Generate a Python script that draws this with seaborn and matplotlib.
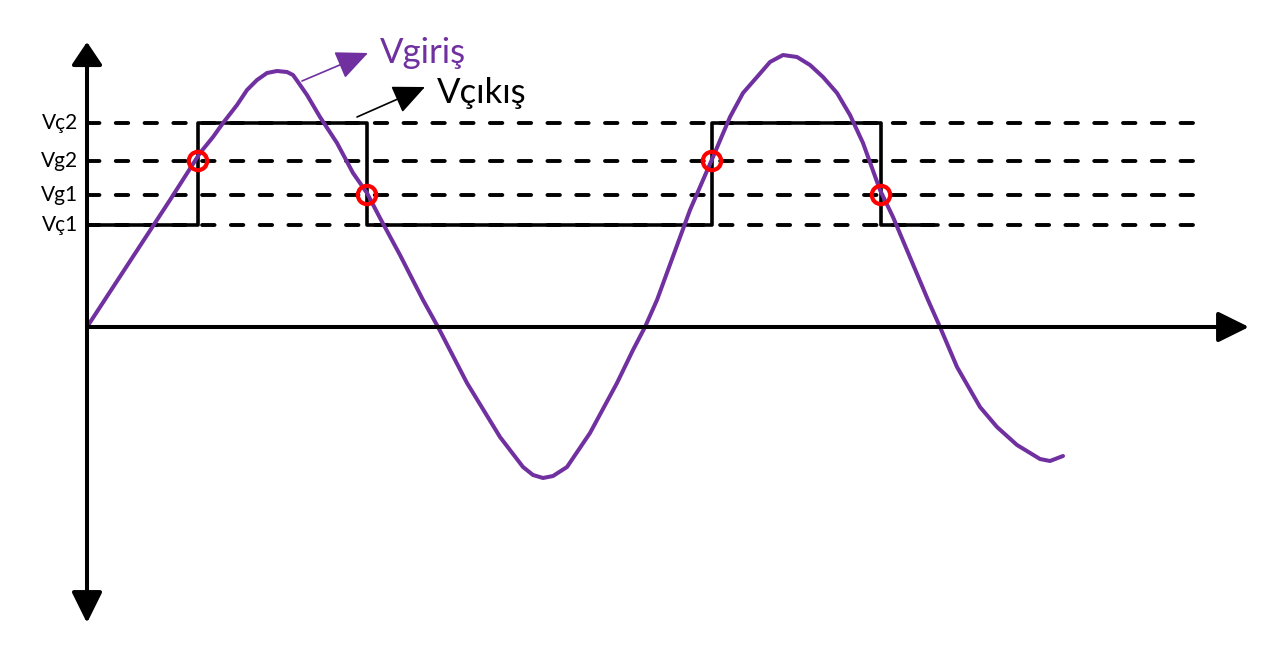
import numpy as np
import pandas as pd
import matplotlib
matplotlib.use('Agg')
import matplotlib.pyplot as plt
import seaborn as sns

# input signal (Vgiris), origin at the axes crossing
vin_x = [0, 83, 113, 126, 136, 150, 160, 170, 180, 190, 200, 206, 211, 220, 233, 250, 266, 280,
         293, 313, 336, 351, 380, 413, 436, 446, 456, 466, 480, 503, 530, 546, 558, 570,
         603, 626, 643, 656, 670, 683, 696, 710, 723, 736, 750, 763, 776, 793, 806,
         841, 853, 870, 893, 910, 930, 953, 963, 976]
vin_y = [0, 127, 174, 190, 204, 222, 237, 247, 254, 256, 255, 252, 245, 232, 210, 184, 154, 134,
         109, 72, 27, 0, -56, -110, -140, -148, -151, -149, -140, -106, -56, -23, 0, 27,
         117, 170, 210, 234, 250, 265, 272, 270, 262, 250, 234, 212, 184, 137, 110,
         27, 0, -40, -80, -100, -118, -132, -134, -129]

# threshold levels
level_names = ['Vç2', 'Vg2', 'Vg1', 'Vç1']
level_vals = [204, 166, 132, 102]

# output square wave (Vcikis)
vout_x = [0, 111, 111, 280, 280, 625, 625, 794, 794, 851]
vout_y = [102, 102, 204, 204, 102, 102, 204, 204, 102, 102]

# switching points
switch_x = [111, 280, 625, 794]
switch_y = [166, 132, 166, 132]

purple = '#7030A0'

sns.set_style('white')
plt.rcParams['font.family'] = ['Lato', 'DejaVu Sans']

fig = plt.figure(figsize=(12.68, 6.48), dpi=100)
ax = fig.add_axes([0, 0, 1, 1])
ax.set_xlim(-87, 1181)
ax.set_ylim(-321, 327)
ax.axis('off')

# axes with arrow heads
arr = dict(lw=2.9, color='black', shrinkA=0, shrinkB=0)
ax.annotate('', xy=(1162, 0), xytext=(0, 0),
            arrowprops=dict(arrowstyle='-|>,head_length=0.95,head_width=0.47', mutation_scale=20, **arr))
ax.annotate('', xy=(0, 285), xytext=(0, 0),
            arrowprops=dict(arrowstyle='-|>,head_length=0.7,head_width=0.47', mutation_scale=20, **arr))
ax.annotate('', xy=(0, -296), xytext=(0, 0),
            arrowprops=dict(arrowstyle='-|>,head_length=0.95,head_width=0.47', mutation_scale=20, **arr))

# dashed threshold lines + labels
for name, v in zip(level_names, level_vals):
    ax.plot([0, 1113], [v, v], color='black', lw=2.8, ls=(0, (3.2, 4.2)), dash_capstyle='round')
    ax.text(-9, v, name, ha='right', va='center', fontsize=15, color='black')

# square wave output
sns.lineplot(x=vout_x, y=vout_y, sort=False, estimator=None, color='black', lw=2.6, ax=ax)

# input signal
sns.lineplot(x=vin_x, y=vin_y, sort=False, estimator=None, color=purple, lw=2.9,
             solid_joinstyle='round', solid_capstyle='round', ax=ax)

# switching circles
sns.scatterplot(x=switch_x, y=switch_y, s=175, facecolor='none', edgecolor='red', linewidth=3.0, zorder=5, ax=ax)

# signal labels with pointers
ax.annotate('', xy=(281, 274), xytext=(215, 246),
            arrowprops=dict(arrowstyle='-|>,head_length=1.0,head_width=0.45', mutation_scale=20,
                            lw=1.2, color=purple, shrinkA=0, shrinkB=0))
ax.text(293, 264, 'Vgiriş', color=purple, fontsize=25, ha='left', va='baseline')

ax.annotate('', xy=(338, 240), xytext=(270, 210),
            arrowprops=dict(arrowstyle='-|>,head_length=1.0,head_width=0.45', mutation_scale=20,
                            lw=1.2, color='black', shrinkA=0, shrinkB=0))
ax.text(350, 224, 'Vçıkış', color='black', fontsize=25, ha='left', va='baseline')

fig.savefig('out.png', dpi=100)
